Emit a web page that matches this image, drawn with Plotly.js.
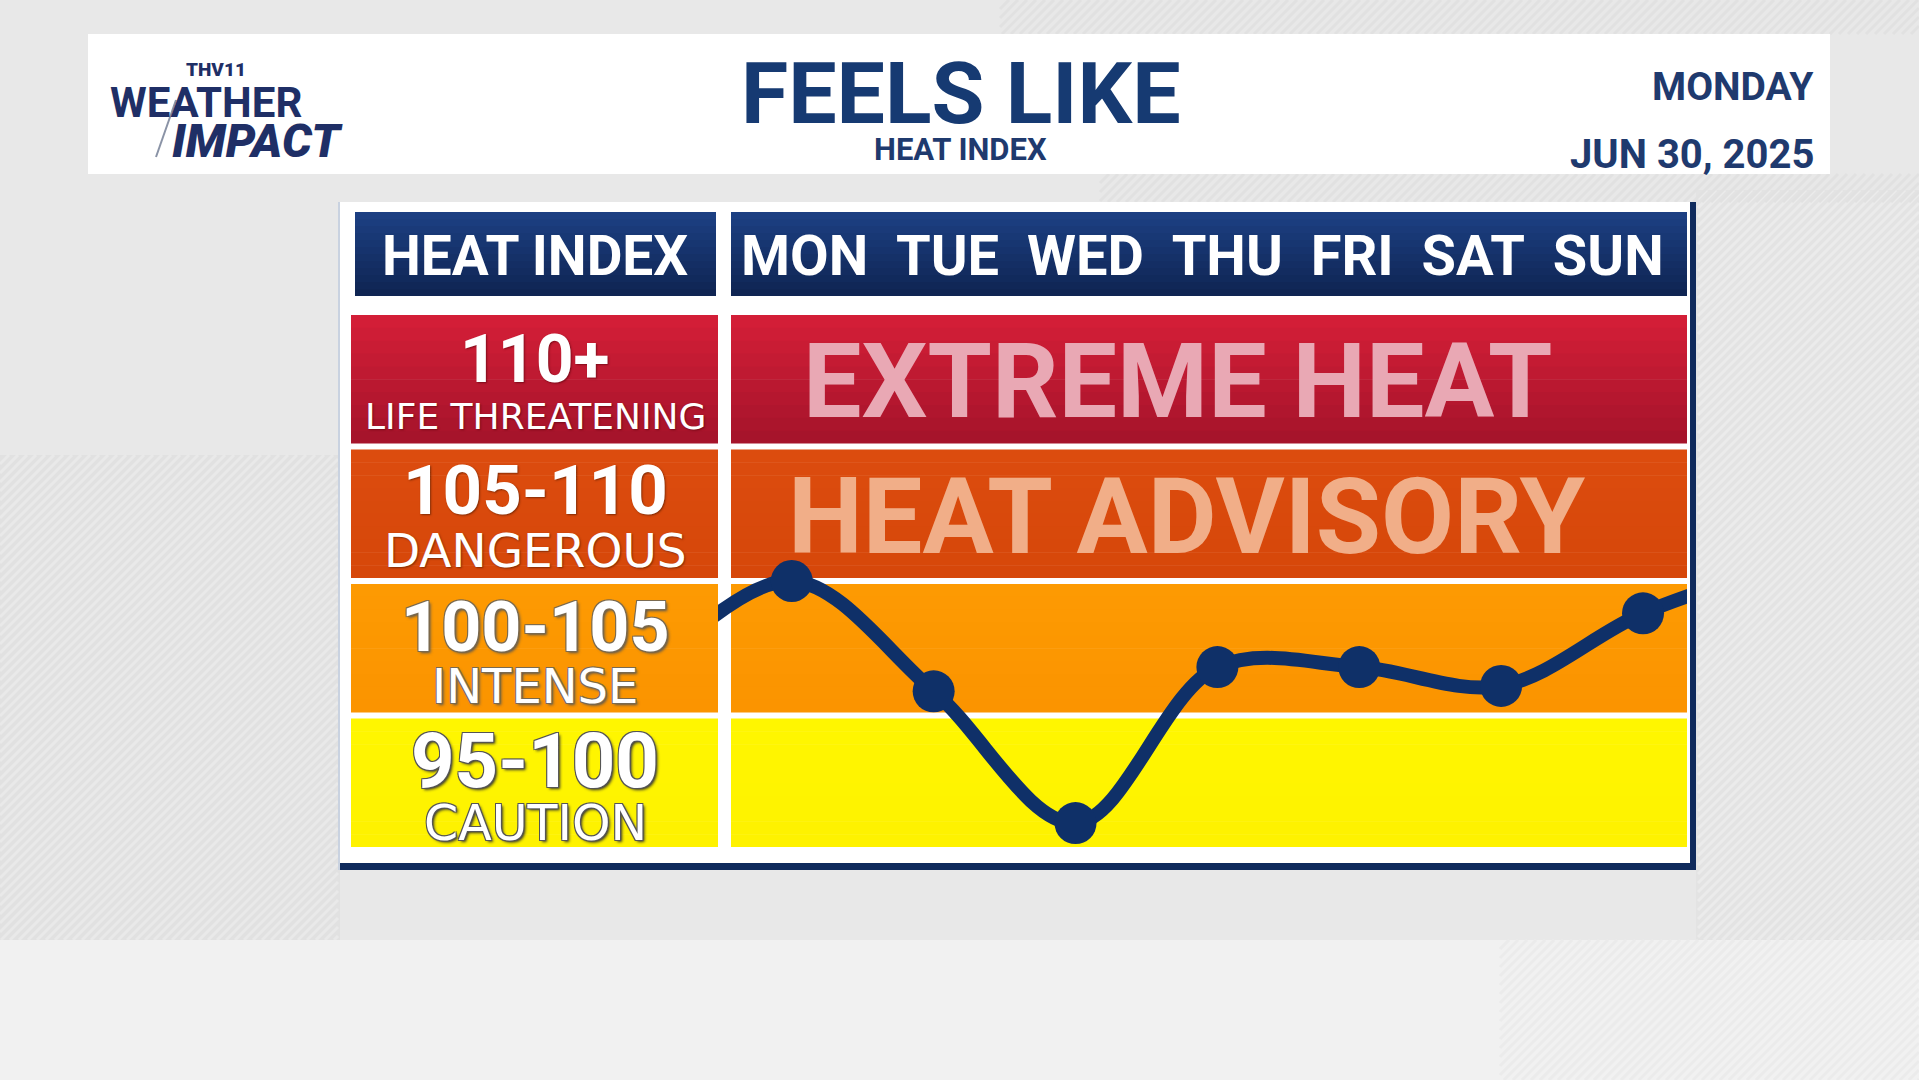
<!DOCTYPE html>
<html><head><meta charset="utf-8">
<script src="https://cdn.plot.ly/plotly-3.0.1.min.js"></script>
<style>html,body{margin:0;padding:0;overflow:hidden;background:#e7e7e7}#chart{width:1919px;height:1080px}</style>
</head><body><div id="chart"></div>
<script>
// ---------------- data ----------------
const days = ['MON', 'TUE', 'WED', 'THU', 'FRI', 'SAT', 'SUN'];
const heatIndex = [105.0, 100.9, 96.0, 101.8, 101.8, 101.1, 103.8];
const prevDayValue = 101.6;   // line enters from the left edge
const nextDayValue = 105.6;   // line leaves at the right edge
const bandLow = [110, 105, 100, 95];
const bandHigh = [115, 110, 105, 100];
const bandRange = ['110+', '105-110', '100-105', '95-100'];
const bandName = ['LIFE THREATENING', 'DANGEROUS', 'INTENSE', 'CAUTION'];
const advisoryText = ['EXTREME HEAT', 'HEAT ADVISORY'];
const titleText = 'FEELS LIKE';
const subtitleText = 'HEAT INDEX';
const columnHeader = 'HEAT INDEX';
const dayText = 'MONDAY';
const dateText = 'JUN 30, 2025';

// ---------------- styles / geometry ----------------
const W = 1919, H = 1080;
const X = p => p / W, Y = p => 1 - p / H;
const bandTop = ['#d31e37', '#dc4c0e', '#fd9a02', '#fff600'];
const bandBot = ['#a6142b', '#d6470a', '#fb9400', '#fef200'];
const advisoryColor = ['#e9a8b4', '#f1ae88'];
const FONT = 'Roboto, "DejaVu Sans", sans-serif';
const WIDE = '"DejaVu Sans", Roboto, sans-serif';

function lerpColor(a, b, t) {
  const pa = [1,3,5].map(i => parseInt(a.substr(i,2),16));
  const pb = [1,3,5].map(i => parseInt(b.substr(i,2),16));
  return 'rgb(' + pa.map((v,k) => Math.round(v + (pb[k]-v)*t)).join(',') + ')';
}
const shapes = [];
function rectP(x0, x1, y0, y1, color) {
  shapes.push({type:'rect', xref:'paper', yref:'paper', x0:X(x0), x1:X(x1), y0:Y(y1), y1:Y(y0),
               fillcolor:color, line:{width:0}, layer:'below'});
}
function gradP(x0, x1, y0, y1, c0, c1, n) {
  for (let k = 0; k < n; k++) {
    const a = y0 + (y1 - y0) * k / n, b = y0 + (y1 - y0) * (k + 1) / n + 0.6;
    rectP(x0, x1, a, Math.min(b, y1), lerpColor(c0, c1, k / (n - 1)));
  }
}
function gradY(x0, x1, v0, v1, c0, c1, n) { // v0 top value, v1 bottom value (data units)
  for (let k = 0; k < n; k++) {
    const a = v0 - (v0 - v1) * k / n, b = v0 - (v0 - v1) * (k + 1) / n;
    shapes.push({type:'rect', xref:'paper', yref:'y', x0:X(x0), x1:X(x1), y0:Math.max(v1, b - 0.02), y1:a,
                 fillcolor:lerpColor(c0, c1, k / (n - 1)), line:{width:0}, layer:'below'});
  }
}
// diagonal "/" hatch clipped to a rectangle
function hatch(x0, x1, y0, y1, color, step, width) {
  for (let c = x0 + y0; c <= x1 + y1; c += step) {
    const xa = Math.max(x0, c - y1), xb = Math.min(x1, c - y0);
    if (xb <= xa) continue;
    shapes.push({type:'line', xref:'paper', yref:'paper', x0:X(xa), y0:Y(c - xa), x1:X(xb), y1:Y(c - xb),
                 line:{color, width}, layer:'below'});
  }
}

// background
rectP(0, 340, 455, 940, '#e1e1e1');
hatch(0, 338, 455, 940, '#e9e9e9', 9, 3);
rectP(1696, W, 190, 940, '#e3e3e3');
hatch(1698, W, 190, 940, '#ebebeb', 9, 3);
hatch(1000, W, 0, 34, '#e1e1e1', 9, 3);
hatch(1100, W, 174, 202, '#e1e1e1', 9, 3);
rectP(0, W, 940, H, '#f1f1f1');
hatch(1500, W, 940, H, '#ebebeb', 9, 3);
// header card
rectP(88, 1830, 34, 174, '#ffffff');
// logo lightning stroke
shapes.push({type:'line', xref:'paper', yref:'paper', x0:X(156), y0:Y(157), x1:X(176), y1:Y(100),
             line:{color:'#8a93a6', width:2}, layer:'above'});
// main panel
rectP(338, 1696, 202, 870, '#c9d2e0');
rectP(340, 1692, 202, 864, '#ffffff');
rectP(340, 1696, 863, 870, '#0f2a5c');
rectP(1690, 1696, 202, 870, '#0f2a5c');
// header bars
gradP(355, 716, 212, 296, '#1c3f82', '#0f2553', 12);
gradP(731, 1687, 212, 296, '#1c3f82', '#0f2553', 12);
// bands
const inset = 0.11;
bandLow.forEach((lo, i) => {
  const hi = bandHigh[i];
  gradY(351, 718, hi - inset, lo + inset, bandTop[i], bandBot[i], 10);
  gradY(731, 1687, hi - inset, lo + inset, bandTop[i], bandBot[i], 10);
});

// ---------------- annotations ----------------
const ann = [];
function txt(text, x, y, size, color, opts) {
  opts = opts || {};
  ann.push({text, xref:'paper', yref:'paper', x:X(x), y:Y(y), showarrow:false,
            xanchor:opts.xanchor || 'center', yanchor:'middle',
            font:Object.assign({family:opts.family || FONT, size, color, weight:opts.weight || 700},
                               opts.shadow ? {shadow:opts.shadow} : {}, opts.style ? {style:opts.style} : {})});
}
// header
txt(titleText, 961, 93, 86, '#163a72');
txt(subtitleText, 960, 150, 31, '#1f3a6e');
txt(dayText, 1816, 87, 39, '#1f3a6e', {xanchor:'right'});
txt(dateText, 1816, 154, 40, '#1f3a6e', {xanchor:'right'});
// logo
txt('THV11', 216, 69, 19, '#1f2f66', {weight:900});
txt('WEATHER', 206, 102, 42, '#1f2f66', {weight:700});
txt('IMPACT', 257, 140, 47, '#1f2f66', {weight:900, style:'italic'});
// column headers
txt(columnHeader, 535, 256, 55, '#ffffff');
txt(days.join('\u00a0\u00a0'), 1202, 256, 56, '#ffffff');
// left column
const numY = [359, 490, 627, 761], nameY = [416, 550, 686, 823];
const numSize = [66, 69, 70, 76], nameSize = [36, 47, 48, 49];
const shadows = ['1px 1px 2px rgba(80,0,10,0.6)', '1px 1px 2px rgba(90,30,0,0.7)',
  '-1px -1px 0 #7a6a50, 1px -1px 0 #7a6a50, -1px 1px 0 #7a6a50, 1px 1px 0 #7a6a50, 2px 2px 3px #555',
  '-1px -1px 0 #555, 1px -1px 0 #555, -1px 1px 0 #555, 1px 1px 0 #555, 2px 2px 3px #333'];
bandRange.forEach((r, i) => {
  txt(r, 535, numY[i], numSize[i], '#ffffff', {shadow:shadows[i]});
  txt(bandName[i], 535, nameY[i], nameSize[i], '#ffffff', {family:WIDE, weight:400, shadow:shadows[i]});
});
// advisory labels
txt(advisoryText[0], 1178, 382, 104, advisoryColor[0]);
txt(advisoryText[1], 1187, 517, 106, advisoryColor[1]);

// ---------------- traces ----------------
const idx = days.map((d, i) => i);
const lineX = [-1].concat(idx, [days.length]);
const lineY = [prevDayValue].concat(heatIndex, [nextDayValue]);
const traces = [
  {x:lineX, y:lineY, type:'scatter', mode:'lines', line:{color:'#0f3068', width:14, shape:'spline', smoothing:1},
   hoverinfo:'skip', showlegend:false},
  {x:idx, y:heatIndex, text:days, type:'scatter', mode:'markers', marker:{color:'#0f3068', size:42},
   showlegend:false, cliponaxis:false}
];

const layout = {
  width:W, height:H, margin:{l:0, r:0, t:0, b:0},
  paper_bgcolor:'#e8e8e8', plot_bgcolor:'rgba(0,0,0,0)',
  xaxis:{domain:[X(718), X(1687)], range:[-0.52, 6.31], visible:false, fixedrange:true},
  yaxis:{domain:[Y(850), Y(312)], range:[95, 115], visible:false, fixedrange:true},
  shapes, annotations:ann, showlegend:false
};
Plotly.newPlot('chart', traces, layout, {displayModeBar:false, staticPlot:true});
</script>
</body></html>
